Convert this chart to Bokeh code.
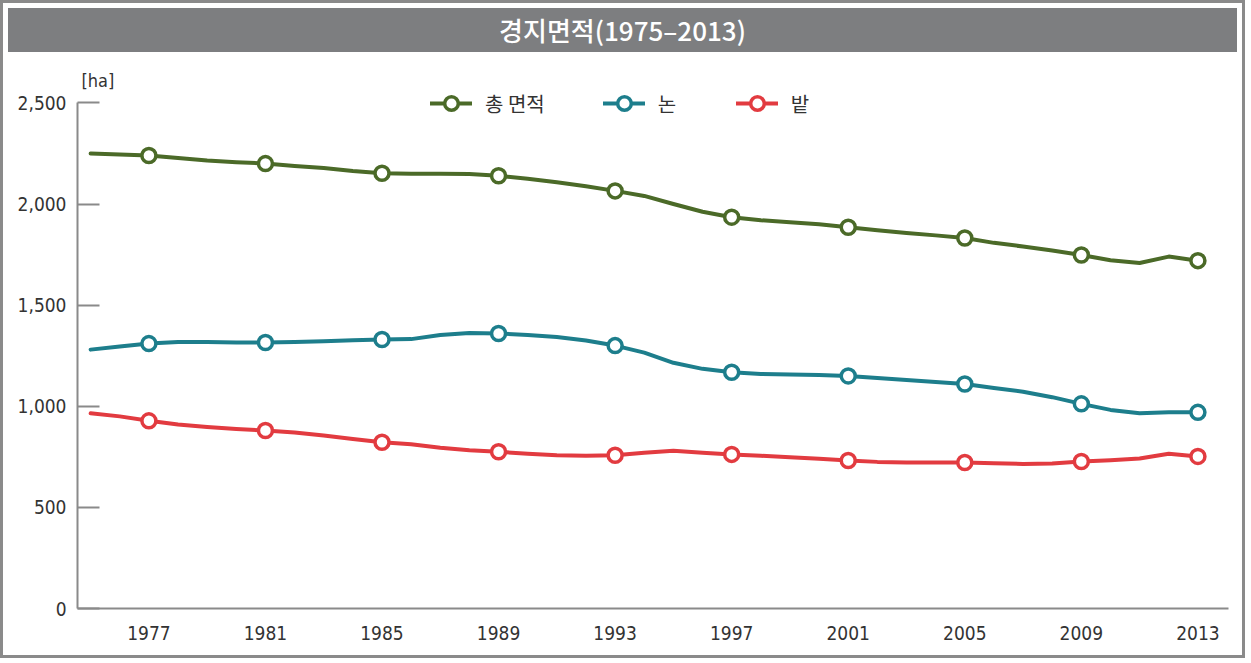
from bokeh.plotting import figure
from bokeh.models import ColumnDataSource, Legend, LegendItem, Label, Div, FixedTicker, NumeralTickFormatter, Range1d
from bokeh.layouts import column
from bokeh.embed import file_html
from bokeh.resources import INLINE

years = [1975, 1976, 1977, 1978, 1979, 1980, 1981, 1982, 1983, 1984,
         1985, 1986, 1987, 1988, 1989, 1990, 1991, 1992, 1993, 1994,
         1995, 1996, 1997, 1998, 1999, 2000, 2001, 2002, 2003, 2004,
         2005, 2006, 2007, 2008, 2009, 2010, 2011, 2012, 2013]
total = [2250, 2245, 2240, 2228, 2215, 2207, 2200, 2188, 2178, 2163,
         2152, 2150, 2150, 2148, 2140, 2125, 2108, 2088, 2065, 2040,
         2000, 1962, 1935, 1920, 1910, 1900, 1885, 1870, 1857, 1845,
         1832, 1808, 1790, 1770, 1748, 1722, 1708, 1740, 1720]
paddy = [1280, 1295, 1310, 1318, 1318, 1315, 1315, 1318, 1322, 1326,
         1330, 1332, 1352, 1362, 1360, 1352, 1342, 1325, 1300, 1265,
         1215, 1185, 1168, 1160, 1157, 1155, 1150, 1140, 1130, 1120,
         1110, 1090, 1072, 1045, 1012, 982, 965, 970, 970]
field = [965, 950, 928, 910, 898, 888, 880, 870, 855, 838,
         822, 812, 795, 782, 775, 765, 758, 755, 758, 770,
         780, 770, 762, 755, 748, 740, 732, 725, 722, 722,
         722, 718, 715, 717, 727, 733, 742, 765, 752]
marker_years = [1977, 1981, 1985, 1989, 1993, 1997, 2001, 2005, 2009, 2013]
series_names = ["총 면적", "논", "밭"]
colors = ["#4b6a28", "#1d7e8c", "#e23b40"]
y_ticks = [0, 500, 1000, 1500, 2000, 2500]
title_text = "경지면적(1975–2013)"
unit_text = "[ha]"

FONT = "Noto Sans CJK KR"
NARROW = "DejaVu Sans Condensed"

p = figure(width=1229, height=598, output_backend="svg", toolbar_location=None,
           x_range=Range1d(1974.55, 2014.05), y_range=Range1d(0, 2680),
           min_border_left=74, min_border_right=4, min_border_top=9, min_border_bottom=47)
p.xgrid.grid_line_color = None
p.ygrid.grid_line_color = None
p.outline_line_color = None
p.background_fill_color = "white"
p.border_fill_color = "white"

p.yaxis.ticker = FixedTicker(ticks=y_ticks)
p.yaxis.bounds = (0, 2500)
p.yaxis.formatter = NumeralTickFormatter(format="0,0")
p.yaxis.axis_line_color = "#8a8a8a"
p.yaxis.axis_line_width = 2
p.yaxis.major_tick_line_color = "#8a8a8a"
p.yaxis.major_tick_line_width = 2
p.yaxis.major_tick_in = 22
p.yaxis.major_tick_out = 0
p.yaxis.minor_tick_line_color = None
p.yaxis.major_label_text_font = NARROW
p.yaxis.major_label_text_font_size = "19px"
p.yaxis.major_label_text_color = "#333333"
p.yaxis.major_label_standoff = 11

p.xaxis.ticker = FixedTicker(ticks=marker_years)
p.xaxis.axis_line_color = "#8a8a8a"
p.xaxis.axis_line_width = 2
p.xaxis.major_tick_line_color = None
p.xaxis.minor_tick_line_color = None
p.xaxis.major_label_text_font = NARROW
p.xaxis.major_label_text_font_size = "19px"
p.xaxis.major_label_text_color = "#333333"
p.xaxis.major_label_standoff = 11

items = []
for name, vals, col in zip(series_names, [total, paddy, field], colors):
    src = ColumnDataSource(dict(x=years, y=vals))
    mx = [y for y in years if y in marker_years]
    my = [v for y, v in zip(years, vals) if y in marker_years]
    msrc = ColumnDataSource(dict(x=mx, y=my))
    r1 = p.line("x", "y", source=src, line_color=col, line_width=4, line_join="round", line_cap="round")
    r2 = p.scatter("x", "y", source=msrc, marker="circle", size=14, fill_color="white",
                   line_color=col, line_width=3.5)
    items.append(LegendItem(label=name, renderers=[r1, r2]))

legend = Legend(items=items, orientation="horizontal", location=(353, 488),
                border_line_color=None, background_fill_alpha=0,
                label_text_font=FONT, label_text_font_size="20px", label_text_color="#333333",
                glyph_width=42, glyph_height=34, spacing=58, padding=0, margin=0,
                label_standoff=13)
p.add_layout(legend)

p.add_layout(Label(x=1974.55, y=2500, x_offset=4, y_offset=12, text=unit_text,
                   text_font=NARROW, text_font_size="18px", text_color="#333333"))

title = Div(text=title_text, width=1229, height=44,
            styles={"background-color": "#7d7e80", "color": "white",
                    "font-family": FONT, "font-size": "26px", "font-weight": "500",
                    "text-align": "center", "line-height": "44px", "width": "1229px"})

layout = column(title, p, spacing=0,
                styles={"border": "3px solid #8a8a8a"})

open("out.html", "w").write(file_html(layout, INLINE))
